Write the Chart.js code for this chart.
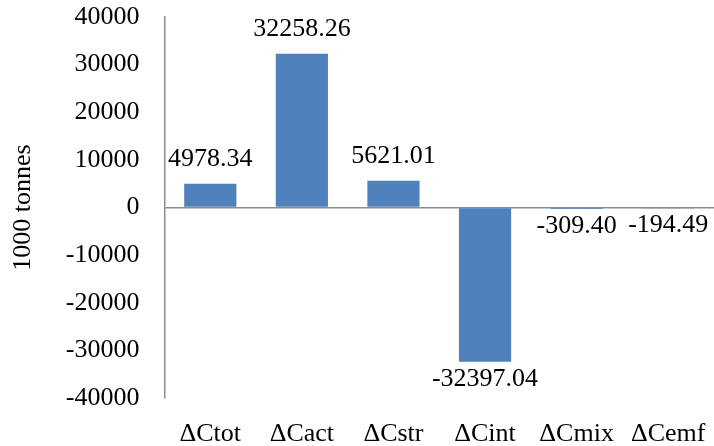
<!DOCTYPE html>
<html>
<head>
<meta charset="utf-8">
<script src="https://cdn.jsdelivr.net/npm/chart.js@4"></script>
<style>
  html, body { margin: 0; padding: 0; background: #fff; }
  #wrap { width: 714px; height: 446px; }
</style>
</head>
<body>
<div id="wrap"><canvas id="chart"></canvas></div>
<script>
const categories = ['ΔCtot', 'ΔCact', 'ΔCstr', 'ΔCint', 'ΔCmix', 'ΔCemf']
const values = [4978.34, 32258.26, 5621.01, -32397.04, -309.40, -194.49]
const y_min = -40000
const y_max = 40000
const y_step = 10000

const font_family = '"Liberation Serif", "Times New Roman", serif'
const font_size = 26
const bar_color = '#4f81bd'
const axis_color = '#8c8c8c'

// draws the value over (or under) each bar
const value_labels = {
    id: 'value_labels',
    afterDatasetsDraw(chart) {
        const c = chart.ctx
        const meta = chart.getDatasetMeta(0)
        c.save()
        c.font = font_size + 'px ' + font_family
        c.fillStyle = '#000'
        c.textAlign = 'center'
        c.textBaseline = 'alphabetic'
        meta.data.forEach((bar, i) => {
            const v = values[i]
            const y = v >= 0 ? bar.y - 18 : bar.y + 24
            c.fillText(v.toFixed(2), bar.x, y)
        })
        c.restore()
    }
}

const chart = new Chart(document.querySelector('#chart'), {
    type: 'bar',
    data: {
        labels: categories,
        datasets: [{
            data: values,
            backgroundColor: bar_color,
            categoryPercentage: 1,
            barPercentage: 0.57,
        }]
    },
    options: {
        responsive: true,
        maintainAspectRatio: false,
        animation: false,
        layout: { padding: { top: 17, right: 0, left: 0, bottom: 0 } },
        plugins: {
            legend: { display: false },
            tooltip: { enabled: false },
        },
        scales: {
            x: {
                grid: { display: false, drawTicks: false },
                border: { display: false },
                ticks: {
                    color: '#000',
                    padding: 21,
                    maxRotation: 0,
                    font: { family: font_family, size: font_size },
                },
                afterFit(scale) {
                    scale.height = 48
                    scale.paddingLeft = 0
                    scale.paddingRight = 0
                },
            },
            y: {
                min: y_min,
                max: y_max,
                ticks: {
                    stepSize: y_step,
                    color: '#000',
                    padding: 25,
                    font: { family: font_family, size: font_size },
                    callback: (v) => String(v),
                },
                grid: {
                    drawTicks: false,
                    color: (ctx) => ctx.tick && ctx.tick.value === 0 ? axis_color : 'rgba(0,0,0,0)',
                    lineWidth: 1.5,
                },
                border: { display: true, color: axis_color, width: 1.5 },
                title: {
                    display: true,
                    text: '1000 tonnes',
                    color: '#000',
                    padding: { top: 8, bottom: 0 },
                    font: { family: font_family, size: font_size },
                },
                afterFit(scale) {
                    scale.width = 164.5
                    scale.paddingTop = 0
                    scale.paddingBottom = 0
                },
            }
        }
    },
    plugins: [value_labels]
})
</script>
</body>
</html>
